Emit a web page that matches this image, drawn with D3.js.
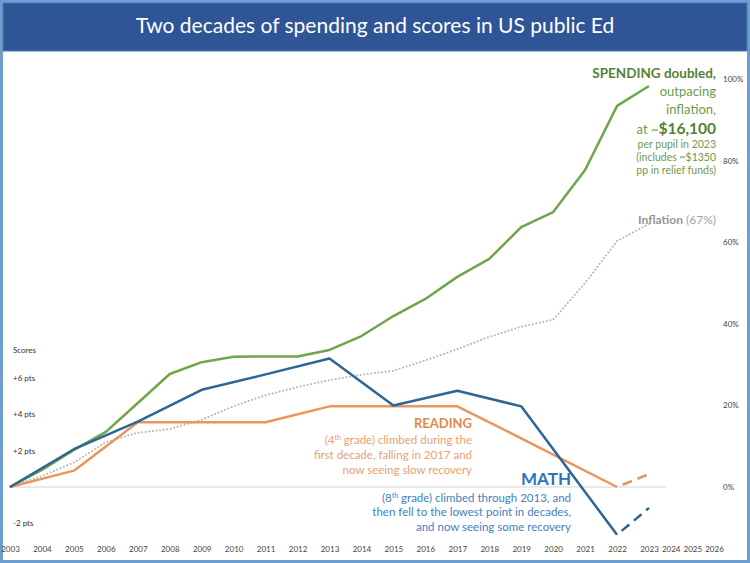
<!DOCTYPE html>
<html><head><meta charset="utf-8">
<script src="https://cdn.jsdelivr.net/npm/d3@7"></script>
<style>
body{margin:0;background:#fff}
svg{display:block}
text{font-family:Lato,"Open Sans",sans-serif}
</style>
</head><body><svg id="c" width="750" height="563"></svg>
<script>
// ---------- data ----------
const years = d3.range(2003, 2024);
const spending  = [0, 4.2, 9.1, 13.5, 20.6, 27.7, 30.6, 31.9, 32.0, 32.0, 33.6, 37.0, 41.9, 46.1, 51.5, 55.9, 63.7, 67.4, 77.7, 93.4, 98.3];
const inflation = [0, 2.7, 6.0, 11.0, 13.3, 14.2, 16.5, 19.8, 22.5, 24.5, 26.2, 27.5, 28.5, 31.0, 33.8, 36.8, 39.3, 41.0, 50.0, 60.3, 64.5];
const naepYears = [2003, 2005, 2007, 2009, 2011, 2013, 2015, 2017, 2019, 2022];
const math    = [0, 2.08, 3.6, 5.35, 6.2, 7.07, 4.49, 5.3, 4.44, -2.63];
const reading = [0, 0.9, 3.56, 3.56, 3.56, 4.44, 4.44, 4.44, 2.68, 0];
const recentYears = [2022, 2023];
const mathRecent = [-2.63, -1.15];
const readingRecent = [0, 0.71];
const axisYears = d3.range(2003, 2027);
const scoreTicks = [6, 4, 2, -2];
const scoreTickLabels = ["+6 pts", "+4 pts", "+2 pts", "-2 pts"];
const pctTicks = [0, 20, 40, 60, 80, 100];

// ---------- setup ----------
const svg = d3.select("#c");
const W = 750, H = 563;

// frame
svg.append("rect").attr("x", 1.5).attr("y", 1.5).attr("width", W - 3).attr("height", H - 3)
  .attr("fill", "#fff").attr("stroke", "#6e9dcf").attr("stroke-width", 3);
svg.append("rect").attr("x", 3).attr("y", 3).attr("width", W - 6).attr("height", 48)
  .attr("fill", "#2f5597").attr("stroke", "#4a78bd").attr("stroke-width", 1);
svg.append("text").attr("x", W / 2).attr("y", 33).attr("text-anchor", "middle")
  .attr("fill", "#fff").attr("font-size", 21).text("Two decades of spending and scores in US public Ed");

// scales
const x = d3.scaleLinear().domain([2003, 2023, 2026]).range([10, 649, 714]);
const yPct = d3.scaleLinear().domain([0, 100]).range([487, 79]);
const yPts = d3.scaleLinear().domain([0, 6]).range([487, 378]);

// zero line
svg.append("line").attr("x1", x(2003)).attr("x2", 667).attr("y1", yPts(0)).attr("y2", yPts(0))
  .attr("stroke", "#d4d4d4").attr("stroke-width", 1);

// axes
const gx = svg.append("g").attr("transform", "translate(0,546)")
  .call(d3.axisBottom(x).tickValues(axisYears).tickFormat(d3.format("d")).tickSize(0).tickPadding(0));
gx.select(".domain").remove();
gx.selectAll("text").attr("font-size", 8).attr("fill", "#444").attr("font-family", "Lato, sans-serif");

const gr = svg.append("g").attr("transform", "translate(723,0)")
  .call(d3.axisRight(yPct).tickValues(pctTicks).tickFormat(d => d + "%").tickSize(0).tickPadding(0));
gr.select(".domain").remove();
gr.selectAll("text").attr("font-size", 8).attr("fill", "#444").attr("font-family", "Lato, sans-serif");

const gl = svg.append("g").attr("transform", "translate(13,0)")
  .call(d3.axisRight(yPts).tickValues(scoreTicks).tickFormat((d, i) => scoreTickLabels[i]).tickSize(0).tickPadding(0));
gl.select(".domain").remove();
gl.selectAll("text").attr("font-size", 8).attr("fill", "#333").attr("font-family", "Lato, sans-serif");
svg.append("text").attr("x", 13).attr("y", yPts(7.5) + 2).attr("font-size", 8).attr("fill", "#333").text("Scores");

// lines
const linePct = d3.line().x(d => x(d[0])).y(d => yPct(d[1]));
const linePts = d3.line().x(d => x(d[0])).y(d => yPts(d[1]));

svg.append("path").datum(d3.zip(years, inflation)).attr("d", linePct)
  .attr("fill", "none").attr("stroke", "#b8b8b8").attr("stroke-width", 2)
  .attr("stroke-dasharray", "0.1 3.5").attr("stroke-linecap", "round");

svg.append("path").datum(d3.zip(years, spending)).attr("d", linePct)
  .attr("fill", "none").attr("stroke", "#6fa64a").attr("stroke-width", 2.5).attr("stroke-linejoin", "round");

svg.append("path").datum(d3.zip(naepYears, reading)).attr("d", linePts)
  .attr("fill", "none").attr("stroke", "#e9965c").attr("stroke-width", 2.5).attr("stroke-linejoin", "round");
svg.append("path").datum(d3.zip(recentYears, readingRecent)).attr("d", linePts)
  .attr("fill", "none").attr("stroke", "#e9965c").attr("stroke-width", 2.5)
  .attr("stroke-dasharray", "10 6").attr("stroke-dashoffset", -6);

svg.append("path").datum(d3.zip(naepYears, math)).attr("d", linePts)
  .attr("fill", "none").attr("stroke", "#2b6699").attr("stroke-width", 2.5).attr("stroke-linejoin", "round");
svg.append("path").datum(d3.zip(recentYears, mathRecent)).attr("d", linePts)
  .attr("fill", "none").attr("stroke", "#2b6699").attr("stroke-width", 2.5)
  .attr("stroke-dasharray", "10 6").attr("stroke-dashoffset", -6);

// annotations
function ann(xr, y, parts, color) {
  const t = svg.append("text").attr("x", xr).attr("y", y).attr("text-anchor", "end").attr("fill", color);
  parts.forEach(p => {
    const s = t.append("tspan").text(p.t).attr("font-size", p.s).attr("font-weight", p.b ? 700 : 400);
    if (p.c) s.attr("fill", p.c);
    if (p.sup) s.attr("baseline-shift", "super");
  });
  return t;
}
const gDark = "#548235", gLight = "#6e9a4e";
ann(716, 78, [{t: "SPENDING doubled,", s: 13.5, b: 1}], gDark);
ann(716, 96, [{t: "outpacing", s: 13}], gLight);
ann(716, 114, [{t: "inflation,", s: 13}], gLight);
ann(716, 134, [{t: "at ~", s: 13}, {t: "$16,100", s: 15.5, b: 1, c: gDark}], gLight);
ann(716, 148, [{t: "per pupil in 2023", s: 10.5}], gLight);
ann(716, 161, [{t: "(includes ~$1350", s: 10.5}], gLight);
ann(716, 174, [{t: "pp in relief funds)", s: 10.5}], gLight);

ann(716, 224, [{t: "Inflation", s: 12, b: 1, c: "#959595"}, {t: " (67%)", s: 12}], "#a3a3a3");

const oDark = "#e08a4c", oLight = "#e9a070";
ann(472, 428, [{t: "READING", s: 13, b: 1}], oDark);
ann(472, 444, [{t: "(4", s: 11.5}, {t: "th", s: 7, sup: 1}, {t: " grade) climbed during the", s: 11.5}], oLight);
ann(472, 459, [{t: "first decade, falling in 2017 and", s: 11.5}], oLight);
ann(472, 474, [{t: "now seeing slow recovery", s: 11.5}], oLight);

const bDark = "#2e75b6", bLight = "#3f82bf";
ann(571, 485, [{t: "MATH", s: 17, b: 1}], bDark);
ann(571, 502, [{t: "(8", s: 11.5}, {t: "th", s: 7, sup: 1}, {t: " grade) climbed through 2013, and", s: 11.5}], bLight);
ann(571, 516, [{t: "then fell to the lowest point in decades,", s: 11.5}], bLight);
ann(571, 531, [{t: "and now seeing some recovery", s: 11.5}], bLight);
</script>
</body></html>
